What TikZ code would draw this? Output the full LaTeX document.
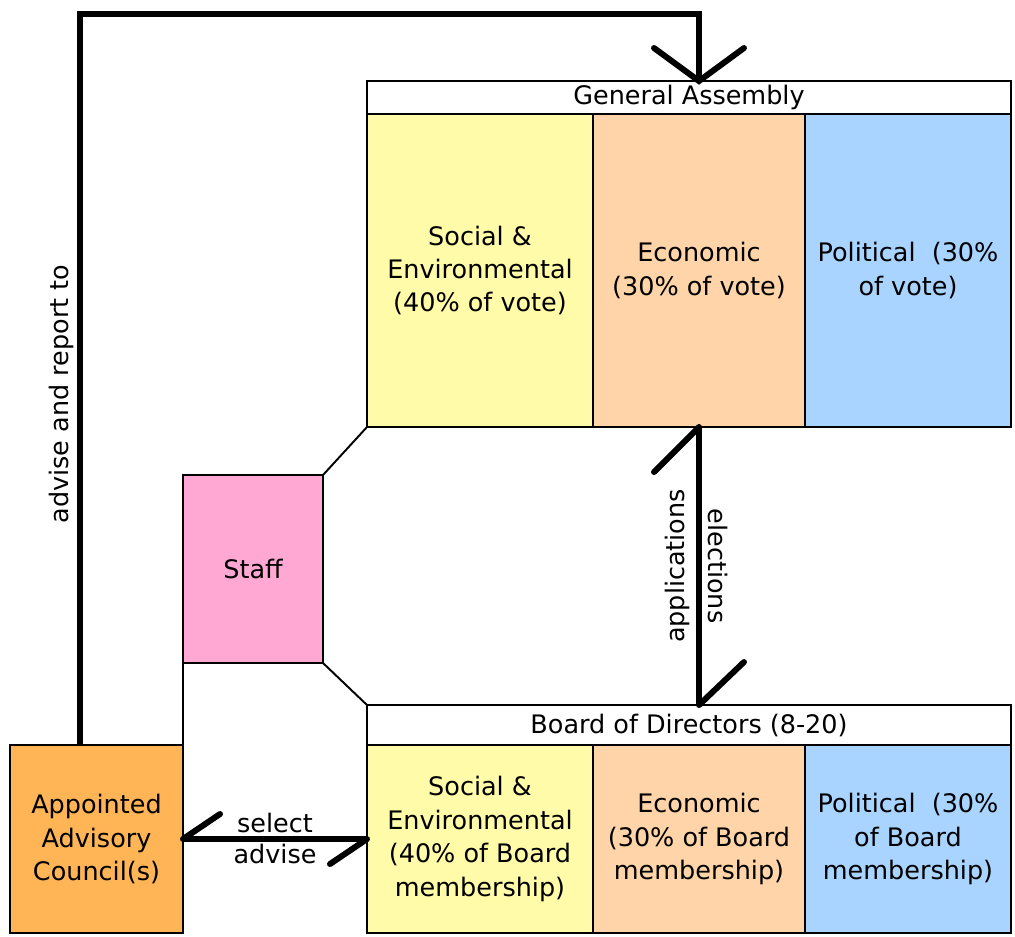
\documentclass[tikz,border=0pt]{standalone}
\usepackage{fontspec}
\setmainfont{DejaVu Sans}
\usetikzlibrary{positioning,calc}
\definecolor{socfill}{HTML}{FFFBA8}
\definecolor{ecofill}{HTML}{FFD4A8}
\definecolor{polfill}{HTML}{A8D4FF}
\definecolor{stafffill}{HTML}{FFA8D4}
\definecolor{advfill}{HTML}{FFB455}
\tikzset{
  box/.style={draw, line width=1.1pt, inner sep=0pt, outer sep=0pt, align=center},
  head/.style={box, fill=white, minimum width=12.88cm},
  flow/.style={line width=3.4pt},
  barb/.style={line width=3.4pt, line cap=round},
  thinline/.style={line width=1.1pt},
}

\begin{document}
\begin{tikzpicture}[font=\fontsize{14.5}{19}\selectfont]
\useasboundingbox (0,0) rectangle (20.3,-18.72);
% general assembly
\node (ga) [head, minimum height=0.66cm, anchor=north west] at (7.34,-1.62) {General Assembly};
\node (gase) [box, fill=socfill, minimum width=4.52cm, minimum height=6.26cm, below=0pt of ga.south west, anchor=north west] {Social \&\\Environmental\\(40\% of vote)};
\node (gaec) [box, fill=ecofill, minimum width=4.24cm, minimum height=6.26cm, right=0pt of gase] {Economic\\(30\% of vote)};
\node (gapo) [box, fill=polfill, minimum width=4.12cm, minimum height=6.26cm, right=0pt of gaec] {Political~~(30\%\\of vote)};
% board of directors
\node (bd) [head, minimum height=0.8cm, anchor=north west] at (7.34,-14.1) {Board of Directors (8-20)};
\node (bdse) [box, fill=socfill, minimum width=4.52cm, minimum height=3.76cm, below=0pt of bd.south west, anchor=north west] {Social \&\\Environmental\\(40\% of Board\\membership)};
\node (bdec) [box, fill=ecofill, minimum width=4.24cm, minimum height=3.76cm, right=0pt of bdse] {Economic\\(30\% of Board\\membership)};
\node (bdpo) [box, fill=polfill, minimum width=4.12cm, minimum height=3.76cm, right=0pt of bdec] {Political~~(30\%\\of Board\\membership)};
% staff and council
\node (staff) [box, fill=stafffill, minimum width=2.8cm, minimum height=3.76cm, anchor=north west] at (3.66,-9.5) {Staff};
\node (council) [box, fill=advfill, minimum width=3.46cm, minimum height=3.76cm, left=3.68cm of bdse] {Appointed\\Advisory\\Council(s)};
\coordinate (top) at (1.6,-0.28);
\coordinate (gatip) at (gaec.north |- ga.north);
\coordinate (bdtip) at (bd.north -| gaec.south);
\draw[thinline] (staff.north east) -- (gase.south west);
\draw[thinline] (staff.south east) -- (bd.north west);
\draw[thinline] (staff.south west) -- (council.north east);
% advise and report to
\draw[flow] (council.north -| top) -- node[pos=0.48,sloped,above,inner sep=2pt] {advise and report to} (top) -| (gatip);
\draw[barb] ($(gatip)+(-0.9,0.66)$) -- (gatip) -- ($(gatip)+(0.9,0.66)$);
% applications / elections
\draw[flow] (bdtip) -- node[midway,rotate=90,anchor=south] {applications} node[midway,rotate=-90,anchor=south] {elections} (gaec.south);
\draw[barb] ($(gaec.south)+(-0.9,-0.9)$) -- (gaec.south);
\draw[barb] ($(bdtip)+(0.9,0.86)$) -- (bdtip);
% select / advise
\draw[flow] (council.east) -- node[above,inner sep=2pt] {select} node[below,inner sep=1pt] {advise} (bdse.west);
\draw[barb] ($(council.east)+(0.74,0.5)$) -- (council.east);
\draw[barb] ($(bdse.west)+(-0.74,-0.5)$) -- (bdse.west);
\end{tikzpicture}
\end{document}
